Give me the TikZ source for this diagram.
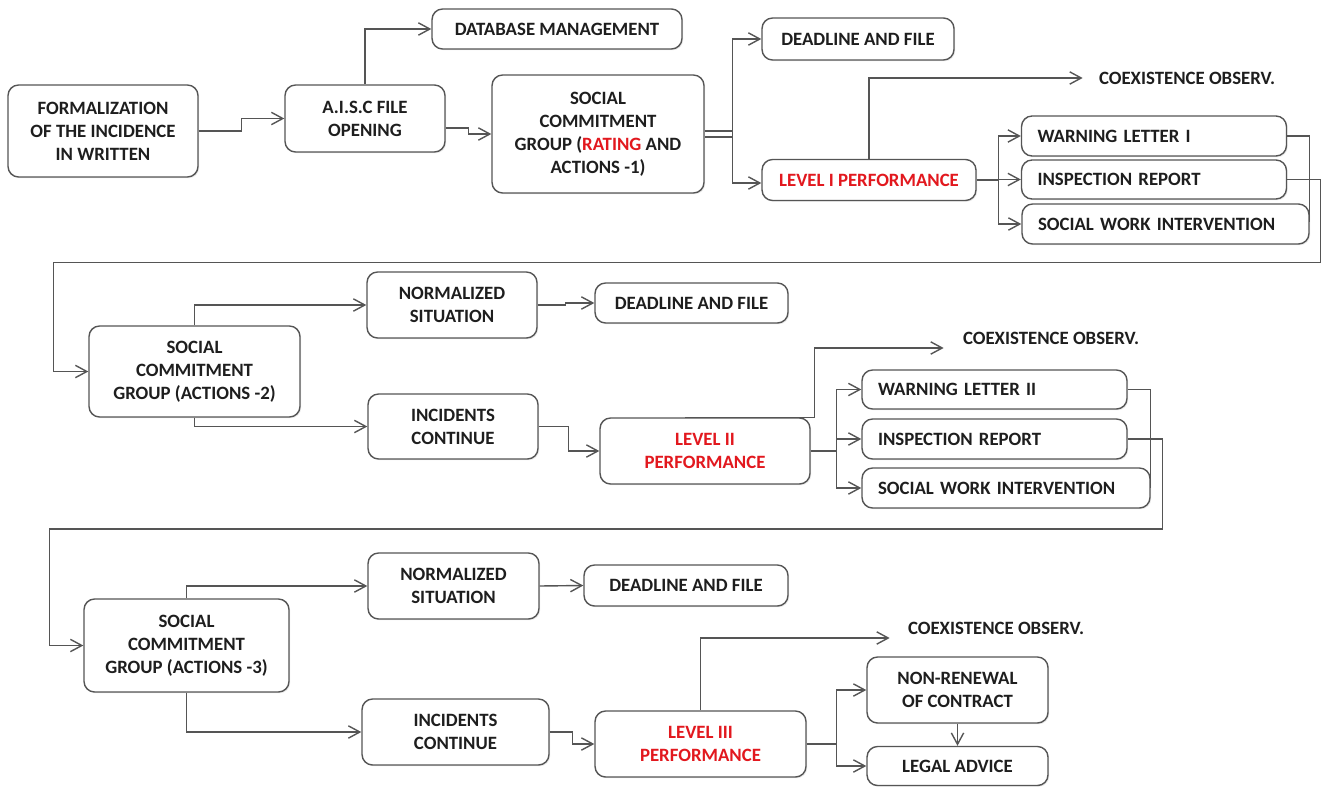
\documentclass[tikz,border=0pt]{standalone}
\usepackage{fontspec}
\setmainfont{Carlito}
\usetikzlibrary{arrows.meta,calc,shadows}
\definecolor{linegray}{RGB}{85,85,85}
\definecolor{txtblack}{RGB}{30,30,30}
\definecolor{lvred}{RGB}{226,24,30}

\begin{document}
\begin{tikzpicture}[x=0.02cm, y=-0.02cm,
  box/.style={draw=linegray, line width=0.8pt, rounded corners=6pt, fill=white, align=center, inner sep=0pt, text=txtblack, font=\fontsize{10.7}{13}\selectfont\bfseries, drop shadow={opacity=0.18, shadow xshift=0.7pt, shadow yshift=-0.7pt}},
  item/.style={box, align=left},
  note/.style={inner sep=0pt, text=txtblack, font=\fontsize{10.7}{13}\selectfont\bfseries},
  wire/.style={draw=linegray, line width=0.8pt},
  link/.style={wire, -{Straight Barb[length=6.5pt,width=7pt]}}]
\useasboundingbox (0,0) rectangle (1321,787);

\node[box, minimum width=3.8cm, minimum height=1.84cm] (form) at (103,131) {FORMALIZATION\\OF THE INCIDENCE\\IN WRITTEN};
\node[box, minimum width=3.2cm, minimum height=1.34cm] (aisc) at (365,118.5) {A.I.S.C FILE\\OPENING};
\node[box, minimum width=5cm, minimum height=0.8cm] (db) at (557,29) {DATABASE MANAGEMENT};
\node[box, minimum width=4.24cm, minimum height=2.36cm] (scgA) at (598,134) {SOCIAL\\COMMITMENT\\GROUP (\textcolor{lvred}{RATING} AND\\ACTIONS -1)};
\node[box, minimum width=3.84cm, minimum height=0.84cm] (dlA) at (858,39) {DEADLINE AND FILE};
\node[box, text=lvred, minimum width=4.28cm, minimum height=0.82cm] (lvA) at (869,180) {LEVEL I PERFORMANCE};
\node[note] (coA) at (1187,78) {COEXISTENCE OBSERV.};
\node[item, text width=4.66cm, minimum width=5.3cm, minimum height=0.8cm] (wlA) at (1154,136) {WARNING LETTER I};
\node[item, text width=4.66cm, minimum width=5.3cm, minimum height=0.78cm] (irA) at (1154,179.5) {INSPECTION REPORT};
\node[item, text width=5.1cm, minimum width=5.74cm, minimum height=0.8cm] (swA) at (1165.5,224) {SOCIAL WORK INTERVENTION};

\node[box, minimum width=4.22cm, minimum height=1.82cm] (scgB) at (194.5,371.5) {SOCIAL\\COMMITMENT\\GROUP (ACTIONS -2)};
\node[box, minimum width=3.4cm, minimum height=1.32cm] (nsB) at (452,305) {NORMALIZED\\SITUATION};
\node[box, minimum width=3.86cm, minimum height=0.8cm] (dlB) at (691.5,303) {DEADLINE AND FILE};
\node[box, minimum width=3.4cm, minimum height=1.3cm] (icB) at (453,426.5) {INCIDENTS\\CONTINUE};
\node[box, text=lvred, minimum width=4.2cm, minimum height=1.32cm] (lvB) at (705,451) {LEVEL II\\PERFORMANCE};
\node[note] (coB) at (1051,338) {COEXISTENCE OBSERV.};
\node[item, text width=4.66cm, minimum width=5.3cm, minimum height=0.78cm] (wlB) at (994.5,389.5) {WARNING LETTER II};
\node[item, text width=4.66cm, minimum width=5.3cm, minimum height=0.8cm] (irB) at (994.5,439) {INSPECTION REPORT};
\node[item, text width=5.12cm, minimum width=5.76cm, minimum height=0.8cm] (swB) at (1006,488) {SOCIAL WORK INTERVENTION};

\node[box, minimum width=4.1cm, minimum height=1.86cm] (scgC) at (186.5,645.5) {SOCIAL\\COMMITMENT\\GROUP (ACTIONS -3)};
\node[box, minimum width=3.42cm, minimum height=1.32cm] (nsC) at (453.5,586) {NORMALIZED\\SITUATION};
\node[box, minimum width=4.08cm, minimum height=0.82cm] (dlC) at (686,585.5) {DEADLINE AND FILE};
\node[box, minimum width=3.74cm, minimum height=1.32cm] (icC) at (455.5,732) {INCIDENTS\\CONTINUE};
\node[box, text=lvred, minimum width=4.22cm, minimum height=1.32cm] (lvC) at (700.5,744) {LEVEL III\\PERFORMANCE};
\node[note] (coC) at (996,628) {COEXISTENCE OBSERV.};
\node[box, minimum width=3.62cm, minimum height=1.32cm] (nrC) at (957.5,690) {NON-RENEWAL\\OF CONTRACT};
\node[box, minimum width=3.62cm, minimum height=0.78cm] (laC) at (957.5,766) {LEGAL ADVICE};

\draw[link] (form.east) -- ++(43,0) |- (aisc.west);
\draw[link] (aisc.north) |- (db.west);
\draw[link] ($(aisc.east)+(0,9.5)$) -- ++(23,0) |- (scgA.west);
\draw[wire, double=white, double distance=2.4pt] (scgA.east) -- ++(28,0) coordinate (jA);
\draw[link] (jA) |- (dlA.west);
\draw[link] (jA) |- ($(lvA.west)+(0,3)$);
\draw[link] (lvA.north) |- ($(coA.west)+(-16,0)$);
\draw[wire] (lvA.east) -- ++(22,0) coordinate (kA);
\draw[link] (kA) |- (wlA.west);
\draw[link] (kA) |- (irA.west);
\draw[link] (kA) |- (swA.west);
\draw[wire] (wlA.east) -| ($(swA.east)+(0,-2)$);
\draw[link] (irA.east) -- ++(34,0) |- ($(scgB.west)+(-35,-109)$) |- (scgB.west);

\draw[link] (scgB.north) |- (nsB.west);
\draw[link] (scgB.south) |- (icB.west);
\draw[link] (nsB.east) -- ++(28,0) |- (dlB.west);
\draw[link] (icB.east) -- ++(30,0) |- (lvB.west);
\draw[link] ($(lvB.north west)+(86,0)$) -- ++(129,0) |- ($(coB.west)+(-19,10)$);
\draw[wire] (lvB.east) -- ++(26,0) coordinate (kB);
\draw[link] (kB) |- (wlB.west);
\draw[link] (kB) |- (irB.west);
\draw[link] (kB) |- (swB.west);
\draw[wire] (wlB.east) -| (swB.east);
\draw[link] (irB.east) -- ++(35,0) |- ($(scgC.west)+(-34,-116.5)$) |- (scgC.west);

\draw[link] (scgC.north) |- (nsC.west);
\draw[link] (scgC.south) |- (icC.west);
\draw[link] (nsC.east) -- (dlC.west);
\draw[link] (icC.east) -- ++(23,0) |- (lvC.west);
\draw[link] (lvC.north) |- ($(coC.west)+(-18,10)$);
\draw[wire] (lvC.east) -- ++(30,0) coordinate (kC);
\draw[link] (kC) |- (nrC.west);
\draw[link] (kC) |- (laC.west);
\draw[link] (nrC.south) -- (laC.north);
\end{tikzpicture}
\end{document}
